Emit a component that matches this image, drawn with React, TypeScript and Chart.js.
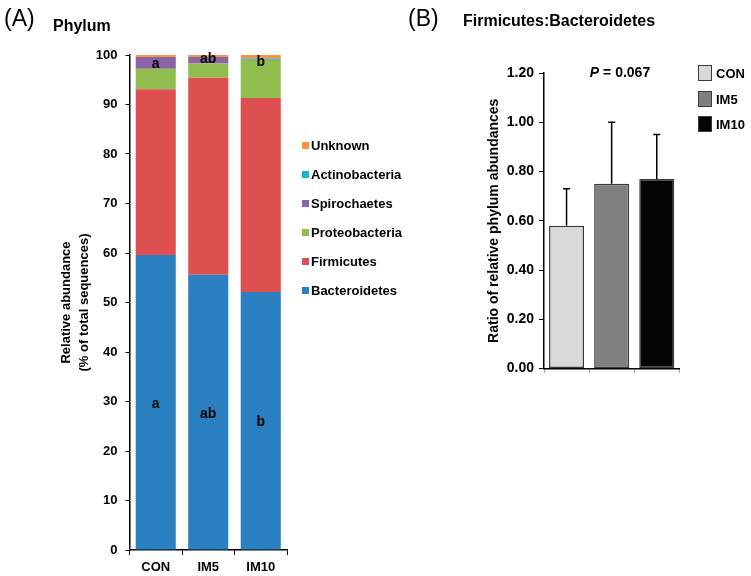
import React, { useEffect, useRef } from "react";
import { Chart, registerables } from "chart.js";
Chart.register(...registerables);

const FONT = "'Liberation Sans', Arial, Helvetica, sans-serif";
Chart.defaults.font.family = FONT;

// ---- Panel A data ----
const groups = ["CON", "IM5", "IM10"];
const phyla = ["Bacteroidetes", "Firmicutes", "Proteobacteria", "Spirochaetes", "Actinobacteria", "Unknown"];
const phylumColors = ["#2a80c1", "#de5050", "#8fbe4e", "#8c62a8", "#1bb3cf", "#f7953f"];
const bacteroidetes = [59.6, 55.6, 52.1];
const firmicutes = [33.5, 39.8, 39.2];
const proteobacteria = [4.1, 2.9, 7.7];
const spirochaetes = [2.4, 1.3, 0.1];
const actinobacteria = [0.0, 0.0, 0.2];
const unknown = [0.4, 0.4, 0.7];
const topLetters = ["a", "ab", "b"];
const topLetterLevels = [98.2, 99.2, 98.6];
const bottomLetters = ["a", "ab", "b"];
const bottomLetterLevels = [29.5, 27.5, 25.9];
const abundanceTicks = [0, 10, 20, 30, 40, 50, 60, 70, 80, 90, 100];

// ---- Panel B data ----
const ratioMeans = [0.58, 0.75, 0.77];
const ratioSD = [0.15, 0.25, 0.18];
const ratioColors = ["#d9d9d9", "#808080", "#050505"];
const ratioTicks = [0, 0.2, 0.4, 0.6, 0.8, 1.0, 1.2];
const pValueText = "0.067";

const phylumSeries = [bacteroidetes, firmicutes, proteobacteria, spirochaetes, actinobacteria, unknown];

const letterPlugin = {
  id: "letters",
  afterDatasetsDraw(chart: any) {
    const meta = chart.getDatasetMeta(0);
    const ys = chart.scales.y;
    const ctx = chart.ctx;
    ctx.save();
    ctx.fillStyle = "#000";
    ctx.font = `bold 14px ${FONT}`;
    ctx.textAlign = "center";
    ctx.textBaseline = "middle";
    meta.data.forEach((bar: any, i: number) => {
      ctx.fillText(topLetters[i], bar.x, ys.getPixelForValue(topLetterLevels[i]));
      ctx.fillText(bottomLetters[i], bar.x, ys.getPixelForValue(bottomLetterLevels[i]));
    });
    ctx.restore();
  },
};

const errorBarPlugin = {
  id: "errorBars",
  afterDatasetsDraw(chart: any) {
    const meta = chart.getDatasetMeta(0);
    const ys = chart.scales.y;
    const ctx = chart.ctx;
    ctx.save();
    ctx.strokeStyle = "#000";
    ctx.lineWidth = 1.5;
    meta.data.forEach((bar: any, i: number) => {
      const top = ys.getPixelForValue(ratioMeans[i] + ratioSD[i]);
      ctx.beginPath();
      ctx.moveTo(bar.x, bar.y);
      ctx.lineTo(bar.x, top);
      ctx.moveTo(bar.x - 3.5, top);
      ctx.lineTo(bar.x + 3.5, top);
      ctx.stroke();
    });
    ctx.restore();
  },
};

function PanelA() {
  const ref = useRef<HTMLCanvasElement>(null);
  useEffect(() => {
    const chart = new Chart(ref.current!, {
      type: "bar",
      data: {
        labels: groups,
        datasets: phyla.map((name, k) => ({
          label: name,
          data: phylumSeries[k],
          backgroundColor: phylumColors[k],
          borderWidth: 0,
          barPercentage: 0.763,
          categoryPercentage: 1,
        })),
      },
      options: {
        responsive: false,
        animation: false,
        layout: { padding: { left: 0, top: 55, right: 133, bottom: 0 } },
        plugins: { legend: { display: false }, tooltip: { enabled: false } },
        scales: {
          x: {
            stacked: true,
            offset: true,
            afterFit: (s: any) => { s.height = 26; },
            border: { display: true, color: "#000", width: 1.5 },
            grid: { display: true, drawOnChartArea: false, drawTicks: true, tickLength: 5, color: "#000", offset: true },
            ticks: { color: "#000", padding: 5, font: { size: 13, weight: "bold" } },
          },
          y: {
            stacked: true,
            min: 0,
            max: 100,
            afterFit: (s: any) => { s.width = 129.5; },
            afterBuildTicks: (s: any) => { s.ticks = abundanceTicks.map((v) => ({ value: v })); },
            border: { display: true, color: "#000", width: 1.5 },
            grid: { display: true, drawOnChartArea: false, drawTicks: true, tickLength: 4, color: "#000" },
            ticks: { color: "#000", padding: 8, font: { size: 13, weight: "bold" } },
            title: {
              display: true,
              text: ["Relative abundance", "(% of total sequences)"],
              color: "#000",
              font: { size: 13, weight: "bold", lineHeight: 1.385 },
              padding: { top: 57, bottom: 0 },
            },
          },
        },
      },
      plugins: [letterPlugin],
    } as any);
    return () => chart.destroy();
  }, []);
  return <canvas ref={ref} width={420} height={576} style={{ position: "absolute", left: 0, top: 0, display: "block" }} />;
}

function PanelB() {
  const ref = useRef<HTMLCanvasElement>(null);
  useEffect(() => {
    const chart = new Chart(ref.current!, {
      type: "bar",
      data: {
        labels: groups,
        datasets: [
          {
            label: "F:B",
            data: ratioMeans,
            backgroundColor: ratioColors,
            borderColor: "#3a3a3a",
            borderWidth: 1.5,
            borderSkipped: false,
            barPercentage: 0.776,
            categoryPercentage: 1,
          },
        ],
      },
      options: {
        responsive: false,
        animation: false,
        layout: { padding: { left: 0, top: 73, right: 71.7, bottom: 0 } },
        plugins: { legend: { display: false }, tooltip: { enabled: false } },
        scales: {
          x: {
            offset: true,
            afterFit: (s: any) => { s.height = 576 - 368.5; },
            border: { display: true, color: "#000", width: 1.5 },
            grid: { display: true, drawOnChartArea: false, drawTicks: true, tickLength: 4, color: "#999", offset: true },
            ticks: { display: false },
          },
          y: {
            min: 0,
            max: 1.2,
            afterFit: (s: any) => { s.width = 124; },
            afterBuildTicks: (s: any) => { s.ticks = ratioTicks.map((v) => ({ value: v })); },
            border: { display: true, color: "#000", width: 1.5 },
            grid: { display: true, drawOnChartArea: false, drawTicks: true, tickLength: 5, color: "#000" },
            ticks: {
              color: "#000",
              padding: 5,
              font: { size: 14, weight: "bold" },
              callback: (v: any) => Number(v).toFixed(2),
            },
            title: {
              display: true,
              text: "Ratio of relative phylum abundances",
              color: "#000",
              font: { size: 14, weight: "bold", lineHeight: 1.2 },
              padding: { top: 65.6, bottom: 0 },
            },
          },
        },
      },
      plugins: [errorBarPlugin],
    } as any);
    return () => chart.destroy();
  }, []);
  return <canvas ref={ref} width={331} height={576} style={{ position: "absolute", left: 420, top: 0, display: "block" }} />;
}

const txt = (extra: React.CSSProperties): React.CSSProperties => ({
  position: "absolute",
  fontFamily: FONT,
  color: "#000",
  lineHeight: 1,
  whiteSpace: "nowrap",
  transform: "translateY(-50%)",
  ...extra,
});

const legendATop = 145;
const legendAStep = 29;
const legendBRows = [73, 99, 124];

export default function App() {
  const legendOrder = phyla.map((_, i) => i).reverse();
  return (
    <div style={{ position: "absolute", left: 0, top: 0, width: 751, height: 576, background: "#fff", overflow: "hidden" }}>
      <PanelA />
      <PanelB />
      <div style={txt({ left: 4, top: 18, fontSize: 23 })}>(A)</div>
      <div style={txt({ left: 53, top: 26, fontSize: 16, fontWeight: "bold" })}>Phylum</div>
      <div style={txt({ left: 408, top: 18, fontSize: 23 })}>(B)</div>
      <div style={txt({ left: 463, top: 21, fontSize: 16, fontWeight: "bold" })}>Firmicutes:Bacteroidetes</div>
      <div style={txt({ left: 620, top: 72, fontSize: 14, fontWeight: "bold", transform: "translate(-50%, -50%)" })}>
        <i>P</i> = {pValueText}
      </div>
      {legendOrder.map((k, row) => (
        <div key={phyla[k]}>
          <div
            style={{
              position: "absolute",
              left: 302,
              top: legendATop + row * legendAStep - 3.5,
              width: 7,
              height: 7,
              background: phylumColors[k],
            }}
          />
          <div style={txt({ left: 311, top: legendATop + row * legendAStep, fontSize: 13, fontWeight: "bold" })}>
            {phyla[k]}
          </div>
        </div>
      ))}
      {groups.map((g, i) => (
        <div key={g}>
          <div
            style={{
              position: "absolute",
              left: 698,
              top: legendBRows[i] - 8,
              width: 12,
              height: 14,
              background: ratioColors[i],
              border: "1.5px solid #3a3a3a",
            }}
          />
          <div style={txt({ left: 716, top: legendBRows[i], fontSize: 13, fontWeight: "bold" })}>{g}</div>
        </div>
      ))}
    </div>
  );
}
